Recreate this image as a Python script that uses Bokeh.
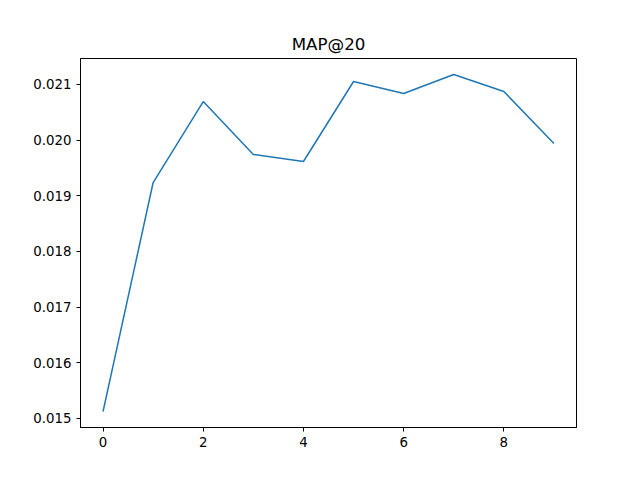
from bokeh.embed import file_html
from bokeh.resources import INLINE
from bokeh.plotting import figure
from bokeh.models import Range1d, FixedTicker, NumeralTickFormatter

epochs = [0, 1, 2, 3, 4, 5, 6, 7, 8, 9]
map20 = [0.015126, 0.019239, 0.020694, 0.019742, 0.019617,
         0.021054, 0.020838, 0.021179, 0.020874, 0.019940]

p = figure(width=624, height=464, output_backend="svg", toolbar_location=None,
           title="MAP@20", x_range=Range1d(-0.45, 9.45), y_range=Range1d(0.014838, 0.021467),
           min_border_left=80, min_border_right=48, min_border_top=58, min_border_bottom=37)
p.line(epochs, map20, line_width=1.5, color="#1f77b4")

p.title.align = "center"
p.title.text_font = "DejaVu Sans"
p.title.text_font_size = "12.5pt"
p.title.text_font_style = "normal"
p.title.text_color = "black"
p.xgrid.visible = False
p.ygrid.visible = False
p.outline_line_color = "black"
p.xaxis.ticker = FixedTicker(ticks=[0, 2, 4, 6, 8])
p.yaxis.ticker = FixedTicker(ticks=[0.015, 0.016, 0.017, 0.018, 0.019, 0.020, 0.021])
p.yaxis.formatter = NumeralTickFormatter(format="0.000")
for ax in (p.xaxis, p.yaxis):
    ax.minor_tick_line_color = None
    ax.major_label_text_font = "DejaVu Sans"
    ax.major_label_text_font_size = "10pt"
    ax.major_label_text_color = "black"
    ax.axis_line_color = "black"
    ax.major_tick_line_color = "black"
    ax.major_tick_in = 0
    ax.major_tick_out = 4

open("out.html", "w").write(file_html(p, INLINE))
